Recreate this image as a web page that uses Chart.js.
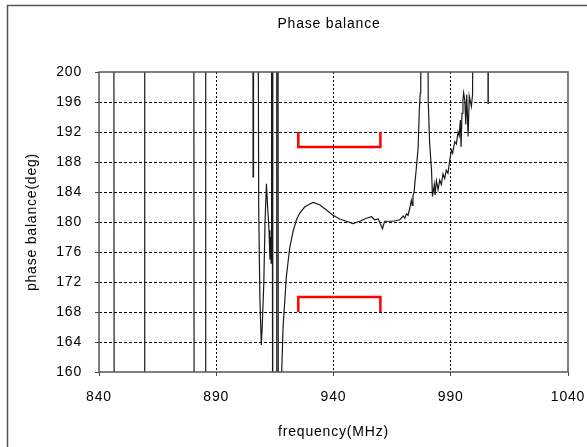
<!DOCTYPE html>
<html>
<head>
<meta charset="utf-8">
<script src="https://cdn.jsdelivr.net/npm/chart.js@4"></script>
<style>
  html, body { margin: 0; padding: 0; background: #fff; overflow: hidden; }
  #wrap { position: relative; width: 587px; height: 447px; }
</style>
</head>
<body>
<div id="wrap"><canvas id="chart" width="587" height="447"></canvas></div>
<script>
//--------------------Data-------------------
// frequency (MHz) / phase balance (deg); values outside 160..200 run off the plot
const freq = [
  840, 846.3, 846.5, 859.3, 859.5, 880.4, 880.6, 885.3, 885.5,
  905.6, 905.7, 905.9, 907.7, 908.1, 908.6, 909.2, 909.6, 910.3, 910.8, 911.4,
  911.9, 912.5, 912.9, 913.2, 913.4, 913.6, 913.8, 914.0, 914.2,
  915.6, 915.8, 916.3, 916.5, 917.4,
  917.6, 918.5, 919.9, 921.3, 922.8, 924.2, 925.6, 927.7, 929.9, 931.3,
  934.1, 937.0, 939.8, 942.6, 945.5, 948.3, 951.2, 954.0, 956.2, 957.6,
  959.1, 959.9, 960.9, 961.4, 961.9, 965.4, 968.3, 969.7, 970.4, 971.1,
  971.8, 972.5, 973.2, 973.6, 973.9, 974.4, 974.8, 975.4, 976.1, 976.6,
  977.0, 977.2, 977.5,
  979.9, 980.4, 981.0, 981.8, 982.2, 983.0, 983.3, 983.9, 984.6, 985.3,
  986.0, 986.7, 987.4, 988.1, 988.8, 989.6, 990.3, 990.8, 991.7, 992.4,
  993.1, 993.6, 994.1, 994.4, 994.8, 995.2, 995.5, 996.0, 996.4, 996.8,
  997.4, 997.9, 998.8, 999.3, 999.8,
  1005.8, 1005.9, 1006.0, 1040
];
const phase = [
  230, 230, 130, 130, 230, 230, 130, 130, 230,
  230, 186, 230, 230, 182, 170, 163.6, 166, 172, 180, 185.1,
  182, 178.9, 175, 178, 174.5, 230, 230, 161.6, 130,
  130, 230, 230, 130, 130,
  157, 166, 172.7, 176.5, 178.8, 180.3, 181.2, 182.0, 182.4, 182.6,
  182.3, 181.6, 180.9, 180.4, 180.1, 179.8, 180.1, 180.5, 180.7, 180.3,
  180.4, 179.8, 179.1, 179.7, 180.1, 180.1, 180.3, 180.8, 180.5, 181.1,
  180.9, 181.8, 182.9, 182.2, 183.5, 184.0, 185.5, 187.4, 190, 195,
  197.2, 198, 230,
  230, 196, 190.5, 186.9, 183.4, 185.0, 183.6, 185.5, 184.3, 185.6,
  185.0, 186.4, 185.8, 186.9, 186.5, 188.3, 189.6, 189.2, 190.7, 190.4,
  192.0, 191.5, 193.6, 190.0, 194.5, 196.3, 197.2, 196.2, 193, 197.0,
  191.4, 196.8, 195.4, 197, 230,
  230, 195.8, 230, 230
];

// red limit brackets
const upperBracketX = [925, 925, 960, 960];
const upperBracketY = [192, 190, 190, 192];
const lowerBracketX = [925, 925, 960, 960];
const lowerBracketY = [168, 170, 170, 168];

// axes
const xMin = 840, xMax = 1040, xStep = 50;
const yMin = 160, yMax = 200, yStep = 4;
const chartTitle = "Phase balance";

//--------------------Helpers-------------------
function toPoints(xs, ys) {
  return xs.map((x, i) => ({ x: x, y: ys[i] }));
}

const FONT = "'Liberation Sans', Arial, sans-serif";

// dashed grid only inside, plot edges drawn by the frame plugin
function gridColor(ctx, lo, hi) {
  const v = ctx.tick ? ctx.tick.value : null;
  if (v === lo || v === hi) return "rgba(0,0,0,0)";
  return "#000";
}

const framePlugin = {
  id: "frame",
  beforeUpdate(chart) {
    chart.ctx.letterSpacing = "0.8px";
  },
  beforeDraw(chart) {
    const c = chart.ctx;
    c.letterSpacing = "0.8px";
    c.save();
    c.fillStyle = "#fff";
    c.fillRect(0, 0, chart.width, chart.height);
    c.strokeStyle = "#555";
    c.lineWidth = 1.5;
    c.beginPath();
    c.moveTo(7.5, chart.height + 5);
    c.lineTo(7.5, 5.5);
    c.lineTo(chart.width + 5, 5.5);
    c.stroke();

    // title, a little left of the plot centre as in the original
    c.fillStyle = "#000";
    c.font = "14px " + FONT;
    c.textAlign = "center";
    c.textBaseline = "middle";
    c.fillText(chartTitle, 329, 24);
    c.restore();
  },
  afterDatasetsDraw(chart) {
    const a = chart.chartArea;
    const c = chart.ctx;
    c.save();
    c.strokeStyle = "#555";
    c.lineWidth = 1.5;
    c.strokeRect(a.left, a.top, a.right - a.left, a.bottom - a.top);
    c.restore();
  }
};

//--------------------Chart-------------------
const ctx = document.getElementById("chart").getContext("2d");

new Chart(ctx, {
  type: "line",
  data: {
    datasets: [
      {
        data: toPoints(freq, phase),
        borderColor: "#1a1a1a",
        borderWidth: 1.2,
        pointRadius: 0,
        tension: 0
      },
      {
        data: toPoints(upperBracketX, upperBracketY),
        borderColor: "#ff0000",
        borderWidth: 2.5,
        pointRadius: 0,
        tension: 0
      },
      {
        data: toPoints(lowerBracketX, lowerBracketY),
        borderColor: "#ff0000",
        borderWidth: 2.5,
        pointRadius: 0,
        tension: 0
      }
    ]
  },
  options: {
    responsive: false,
    animation: false,
    layout: { padding: { left: 0, right: 19, top: 72, bottom: 0 } },
    plugins: {
      legend: { display: false },
      tooltip: { enabled: false },
      title: { display: false }
    },
    scales: {
      x: {
        type: "linear",
        min: xMin,
        max: xMax,
        afterFit(scale) {
          scale.height = 75;
          scale.paddingLeft = 0;
          scale.paddingRight = 0;
        },
        ticks: {
          stepSize: xStep,
          color: "#000",
          padding: 13,
          maxRotation: 0,
          font: { family: FONT, size: 14 },
          callback: (v) => String(v)
        },
        grid: {
          color: (c) => gridColor(c, xMin, xMax),
          tickColor: "#444",
          tickLength: 4,
          lineWidth: 1
        },
        border: { display: false, dash: [2, 2] },
        title: {
          display: true,
          text: "frequency(MHz)",
          color: "#000",
          font: { family: FONT, size: 14 },
          padding: { top: 0, bottom: 6.6 }
        }
      },
      y: {
        min: yMin,
        max: yMax,
        afterFit(scale) { scale.width = 99; },
        ticks: {
          stepSize: yStep,
          color: "#000",
          padding: 13,
          font: { family: FONT, size: 14 },
          callback: (v) => String(v)
        },
        grid: {
          color: (c) => gridColor(c, yMin, yMax),
          tickColor: "#444",
          tickLength: 4,
          lineWidth: 1
        },
        border: { display: false, dash: [3, 2] },
        title: {
          display: true,
          text: "phase balance(deg)",
          color: "#000",
          font: { family: FONT, size: 14 },
          padding: { top: 23.6, bottom: 0 }
        }
      }
    }
  },
  plugins: [framePlugin]
});
</script>
</body>
</html>
